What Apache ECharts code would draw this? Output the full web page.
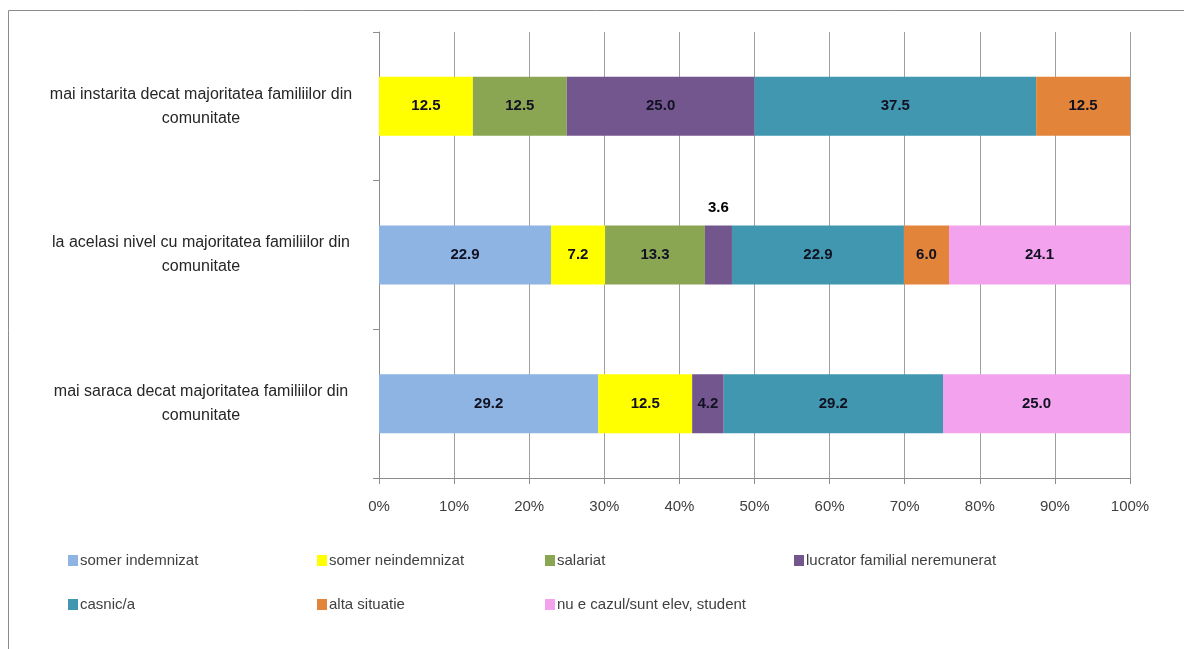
<!DOCTYPE html>
<html>
<head>
<meta charset="utf-8">
<script src="https://cdn.jsdelivr.net/npm/echarts@6/dist/echarts.min.js"></script>
<style>
html,body{margin:0;padding:0;background:#fff;}
#chart{width:1184px;height:649px;}
</style>
</head>
<body>
<div id="chart"></div>
<script>
// Categories (bottom to top)
var categories = [
  'mai saraca decat majoritatea familiilor din\ncomunitate',
  'la acelasi nivel cu majoritatea familiilor din\ncomunitate',
  'mai instarita decat majoritatea familiilor din\ncomunitate'
];
var seriesNames = [
  'somer indemnizat',
  'somer neindemnizat',
  'salariat',
  'lucrator familial neremunerat',
  'casnic/a',
  'alta situatie',
  'nu e cazul/sunt elev, student'
];
var somerIndemnizat   = [29.2, 22.9, null];
var somerNeindemnizat = [12.5, 7.2, 12.5];
var salariat          = [null, 13.3, 12.5];
var lucratorFamilial  = [4.2, 3.6, 25.0];
var casnic            = [29.2, 22.9, 37.5];
var altaSituatie      = [null, 6.0, 12.5];
var nuECazul          = [25.0, 24.1, null];
var xTickLabels = ['0%','10%','20%','30%','40%','50%','60%','70%','80%','90%','100%'];

var seriesValues = [somerIndemnizat, somerNeindemnizat, salariat, lucratorFamilial, casnic, altaSituatie, nuECazul];
var colors = ['#8db4e2', '#ffff00', '#8ba653', '#74568f', '#4097af', '#e2843a', '#f3a3ee'];

var series = seriesValues.map(function (vals, i) {
  return {
    name: seriesNames[i],
    type: 'bar',
    stack: 'total',
    barWidth: 59,
    itemStyle: { color: colors[i] },
    label: {
      show: true,
      position: 'inside',
      formatter: function (p) { return p.value == null ? '' : Number(p.value).toFixed(1); },
      color: '#111122',
      fontWeight: 'bold',
      fontSize: 15,
      fontFamily: 'Liberation Sans'
    },
    data: vals.map(function (v) {
      if (v != null && v < 4) {
        return { value: v, label: { position: 'top', color: '#000', distance: 10 } };
      }
      return v;
    })
  };
});

var legendPos = [
  [63, 548], [312, 548], [540, 548], [789, 548],
  [63, 592], [312, 592], [540, 592]
];
var legends = seriesNames.map(function (n, i) {
  return {
    data: [n],
    left: legendPos[i][0],
    top: legendPos[i][1],
    icon: 'rect',
    itemWidth: 10,
    itemHeight: 11,
    itemGap: 0,
    selectedMode: false,
    textStyle: { color: '#404040', fontSize: 15, fontFamily: 'Liberation Sans', padding: [0, 0, 0, -3] }
  };
});

var chart = echarts.init(document.getElementById('chart'), null, { renderer: 'canvas' });
chart.setOption({
  animation: false,
  backgroundColor: '#ffffff',
  graphic: [{
    type: 'rect',
    shape: { x: 8.5, y: 10.5, width: 1300, height: 800 },
    style: { fill: 'none', stroke: '#8c8c8c', lineWidth: 1 },
    z: -10
  }],
  grid: { left: 379, right: 54, top: 32, bottom: 171, containLabel: false },
  legend: legends,
  xAxis: {
    type: 'value',
    min: 0,
    max: 100,
    interval: 10,
    axisLine: { show: true, lineStyle: { color: '#8c8c8c' } },
    axisTick: { show: true, length: 6, lineStyle: { color: '#8c8c8c' } },
    splitLine: { show: true, lineStyle: { color: '#a0a0a0', width: 1 } },
    axisLabel: {
      color: '#404040',
      fontSize: 15,
      fontFamily: 'Liberation Sans',
      margin: 21,
      formatter: function (v) { return xTickLabels[Math.round(v / 10)]; }
    }
  },
  yAxis: {
    type: 'category',
    data: categories,
    axisLine: { show: true, lineStyle: { color: '#8c8c8c' } },
    axisTick: { show: true, length: 6, lineStyle: { color: '#8c8c8c' } },
    axisLabel: {
      color: '#262626',
      fontSize: 16,
      fontFamily: 'Liberation Sans',
      align: 'center',
      margin: 178,
      lineHeight: 24
    }
  },
  series: series
});
</script>
</body>
</html>
